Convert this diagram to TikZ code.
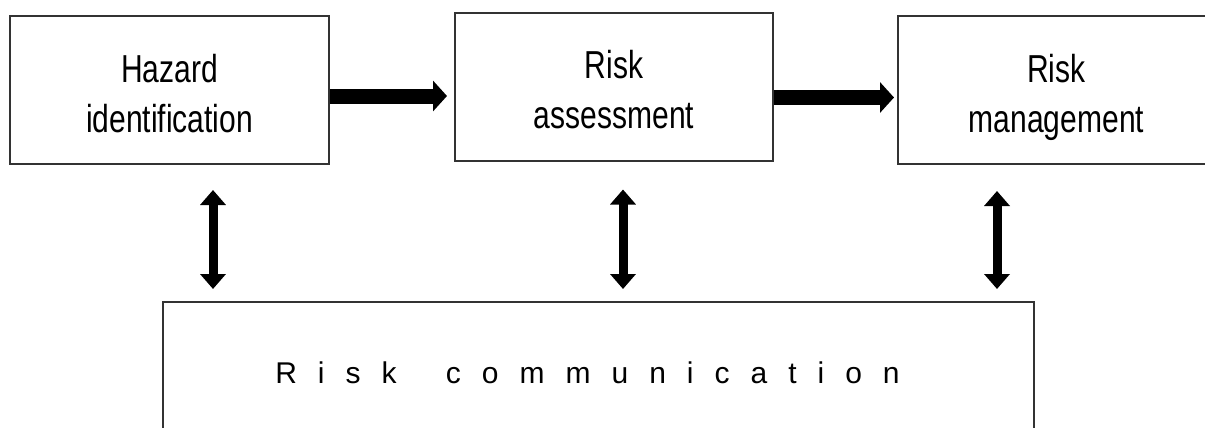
\documentclass[tikz,border=0pt]{standalone}
\usepackage{fontspec}
\usepackage{tikz}
\usetikzlibrary{arrows.meta}
\newfontfamily\boxfont[FakeStretch=0.77]{Liberation Sans}
\newfontfamily\commfont[LetterSpace=70]{Liberation Sans}
\definecolor{boxline}{gray}{0.2}

\begin{document}
\begin{tikzpicture}
	[x=0.5pt,y=-0.5pt,
	%Styles
	stage/.style={draw=boxline,line width=1pt,inner sep=0pt,align=center,
		minimum height=74pt,text height=42pt,text depth=0pt,
		font=\boxfont\fontsize{19.5}{25}\selectfont},
	commbox/.style={draw=boxline,line width=1pt,inner sep=0pt,
		minimum height=71pt,font=\commfont\fontsize{15}{18}\selectfont},
	flow/.style={line width=7.5pt,-{Triangle[length=7pt,width=15pt]}},
	exchange/.style={line width=4.5pt,shorten >=6pt,
		{Triangle[length=7.5pt,width=12.5pt]}-{Triangle[length=7.5pt,width=12.5pt]}}
	]
	
	\useasboundingbox (0,0) rectangle (1205,428);
	
	%The graphic
	\node [stage,minimum width=159.5pt] (hazard) at (169.5,90) {Hazard\\identification};
	\node [stage,minimum width=159pt] (assess) at (614,86.5) {Risk\\assessment};
	\node [stage,minimum width=158.5pt] (manage) at (1056.5,90) {Risk\\management};
	\node [commbox,minimum width=435.5pt] (comm) at (598.5,373) {Risk\hspace{10pt} communication\kern11pt};
	
	\draw[flow,shorten >=3.5pt] ([yshift=-3pt]hazard.east) -- ([yshift=-3pt]hazard.east -| assess.west);
	\draw[flow,shorten >=1.5pt] ([yshift=-5.5pt]assess.east) -- ([yshift=-5.5pt]assess.east -| manage.west);
	
	\draw[exchange,shorten <=12.5pt] ([xshift=21.75pt]hazard.south) -- ([xshift=21.75pt]hazard.south |- comm.north);
	\draw[exchange,shorten <=14pt] ([xshift=4.5pt]assess.south) -- ([xshift=4.5pt]assess.south |- comm.north);
	\draw[exchange,shorten <=13pt] ([xshift=-29.75pt]manage.south) -- ([xshift=-29.75pt]manage.south |- comm.north);
\end{tikzpicture}
\end{document}
